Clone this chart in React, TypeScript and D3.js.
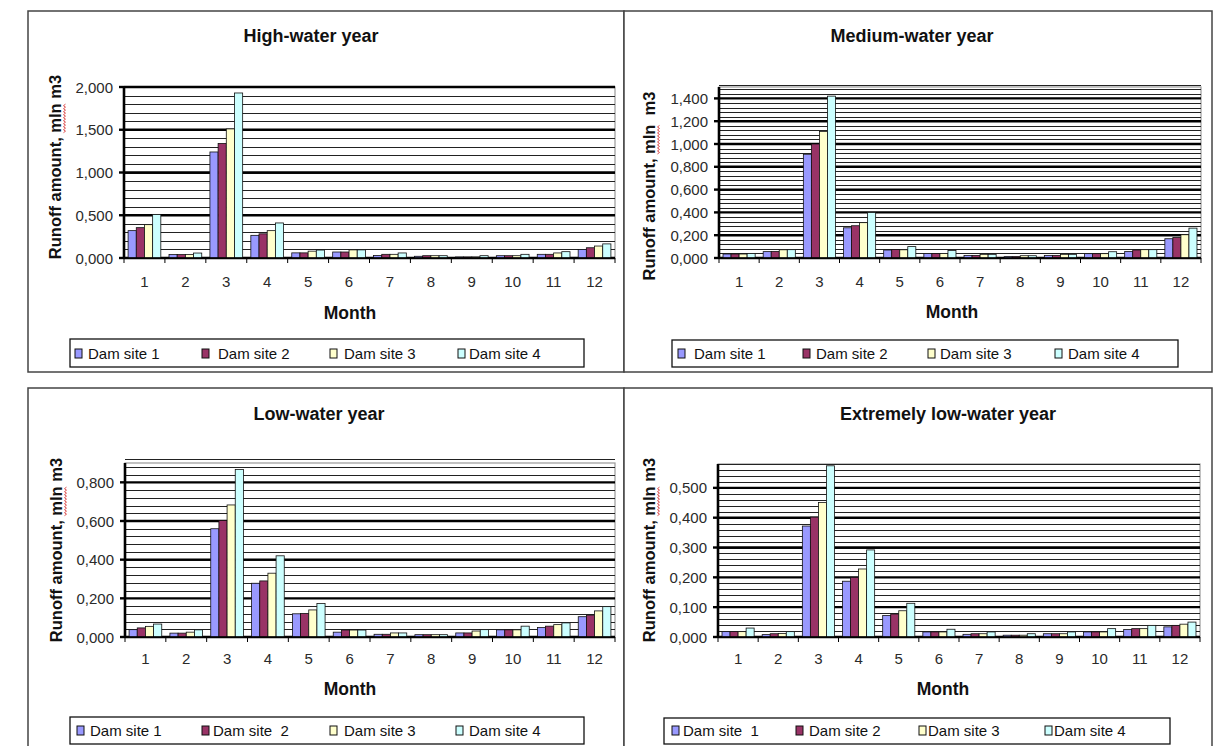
import React from 'react';
import * as d3 from 'd3';

const months = ['1', '2', '3', '4', '5', '6', '7', '8', '9', '10', '11', '12'];

const highWater = [
  [0.32, 0.04, 1.24, 0.265, 0.06, 0.07, 0.03, 0.02, 0.012, 0.027, 0.043, 0.1],
  [0.355, 0.04, 1.34, 0.283, 0.06, 0.07, 0.043, 0.027, 0.012, 0.027, 0.043, 0.12],
  [0.39, 0.04, 1.51, 0.32, 0.08, 0.095, 0.043, 0.027, 0.012, 0.027, 0.059, 0.14],
  [0.51, 0.058, 1.93, 0.41, 0.093, 0.095, 0.059, 0.027, 0.027, 0.043, 0.074, 0.165],
];
const mediumWater = [
  [0.035, 0.056, 0.91, 0.265, 0.07, 0.04, 0.023, 0.012, 0.023, 0.038, 0.058, 0.169],
  [0.035, 0.058, 1.0, 0.283, 0.075, 0.04, 0.023, 0.012, 0.023, 0.038, 0.07, 0.18],
  [0.035, 0.072, 1.11, 0.31, 0.072, 0.04, 0.032, 0.02, 0.032, 0.038, 0.073, 0.204],
  [0.04, 0.073, 1.42, 0.4, 0.1, 0.065, 0.032, 0.02, 0.032, 0.055, 0.073, 0.262],
];
const lowWater = [
  [0.038, 0.02, 0.56, 0.278, 0.12, 0.025, 0.014, 0.012, 0.021, 0.037, 0.049, 0.105],
  [0.047, 0.02, 0.603, 0.29, 0.122, 0.036, 0.014, 0.012, 0.021, 0.037, 0.056, 0.113],
  [0.055, 0.025, 0.683, 0.33, 0.14, 0.036, 0.021, 0.012, 0.031, 0.037, 0.064, 0.135],
  [0.067, 0.037, 0.866, 0.42, 0.173, 0.036, 0.021, 0.012, 0.038, 0.056, 0.073, 0.157],
];
const extremeLowWater = [
  [0.018, 0.008, 0.372, 0.187, 0.072, 0.017, 0.009, 0.006, 0.011, 0.017, 0.025, 0.034],
  [0.018, 0.011, 0.402, 0.2, 0.077, 0.017, 0.011, 0.006, 0.011, 0.017, 0.028, 0.039],
  [0.018, 0.012, 0.451, 0.228, 0.088, 0.017, 0.011, 0.006, 0.011, 0.017, 0.028, 0.043],
  [0.03, 0.018, 0.574, 0.292, 0.113, 0.026, 0.017, 0.011, 0.017, 0.028, 0.039, 0.05],
];

const highTicks = [0, 0.5, 1.0, 1.5, 2.0];
const mediumTicks = [0, 0.2, 0.4, 0.6, 0.8, 1.0, 1.2, 1.4];
const lowTicks = [0, 0.2, 0.4, 0.6, 0.8];
const extremeTicks = [0, 0.1, 0.2, 0.3, 0.4, 0.5];

const legendA = ['Dam site 1', 'Dam site 2', 'Dam site 3', 'Dam site 4'];
const legendC = ['Dam site 1', 'Dam site  2', 'Dam site 3', 'Dam site 4'];
const legendD = ['Dam site  1', 'Dam site 2', 'Dam site 3', 'Dam site 4'];

const COLORS = ['#9999FF', '#993366', '#FFFFCC', '#CCFFFF'];
const FONT = '"Liberation Sans", Arial, sans-serif';
const Y_TITLE_SIZE = 16.5;

const panels = [
  {
    title: 'High-water year', data: highWater, ticks: highTicks, yMax: 2.0, minor: 0.1,
    legend: legendA, yTitleEnd: ' m3',
    frame: [28, 11, 596, 361], plot: { x0: 124, x1: 615, top: 87, bottom: 258 },
    titleX: 311, titleY: 42, yTitleX: 61, yTitleY: 167, xLabelY: 287, monthX: 350, monthY: 319,
    legendBox: [70, 339, 514, 28], markers: [75, 202, 330, 458], texts: [88, 218, 344, 469], legendY: 359,
  },
  {
    title: 'Medium-water year', data: mediumWater, ticks: mediumTicks, yMax: 1.5, minor: 0.04,
    legend: legendA, yTitleEnd: '  m3',
    frame: [624, 11, 588, 361], plot: { x0: 719, x1: 1201, top: 87, bottom: 258 },
    titleX: 912, titleY: 42, yTitleX: 655, yTitleY: 186, xLabelY: 287, monthX: 952, monthY: 318,
    legendBox: [672, 340, 506, 27], markers: [678, 803, 928, 1055], texts: [694, 816, 940, 1068], legendY: 359,
  },
  {
    title: 'Low-water year', data: lowWater, ticks: lowTicks, yMax: 0.9, minor: 0.04,
    legend: legendC, yTitleEnd: ' m3',
    frame: [28, 388, 596, 360], plot: { x0: 125, x1: 615, top: 463, bottom: 637 },
    titleX: 319, titleY: 420, yTitleX: 62, yTitleY: 550, xLabelY: 664, monthX: 350, monthY: 695,
    legendBox: [70, 717, 514, 27], markers: [77, 202, 330, 456], texts: [90, 213, 344, 469], legendY: 736,
  },
  {
    title: 'Extremely low-water year', data: extremeLowWater, ticks: extremeTicks, yMax: 0.58, minor: 0.02,
    legend: legendD, yTitleEnd: ' m3',
    frame: [624, 388, 588, 360], plot: { x0: 718, x1: 1200, top: 464, bottom: 637 },
    titleX: 948, titleY: 420, yTitleX: 655, yTitleY: 550, xLabelY: 664, monthX: 943, monthY: 695,
    legendBox: [664, 718, 506, 26], markers: [672, 796, 919, 1045], texts: [683, 809, 928, 1054], legendY: 736,
  },
];

const fmt = (v: number) => d3.format('.3f')(v).replace('.', ',');

let measureCtx: CanvasRenderingContext2D | null = null;
function textWidth(s: string, font: string): number {
  if (!measureCtx) {
    const c = document.createElement('canvas');
    measureCtx = c.getContext('2d');
  }
  if (!measureCtx) return s.length * 9;
  measureCtx.font = font;
  return measureCtx.measureText(s).width;
}

function wavyPath(xStart: number, xEnd: number, yBase: number): string {
  const pts: [number, number][] = [];
  const period = 3;
  let i = 0;
  for (let xx = xStart; xx <= xEnd + 0.01; xx += period / 2) {
    pts.push([xx, yBase + (i % 2 === 0 ? -1 : 1)]);
    i++;
  }
  return d3.line()(pts) || '';
}

function Panel({ p }: { p: any }) {
  const { x0, x1, top, bottom } = p.plot;
  const x = d3.scaleBand<string>().domain(months).range([x0, x1]).paddingInner(0).paddingOuter(0);
  const xs = d3.scaleBand<number>().domain([0, 1, 2, 3]).range([0, x.bandwidth()]).paddingInner(0).paddingOuter(0.5);
  const y = d3.scaleLinear().domain([0, p.yMax]).range([bottom, top]);
  const nMinor = Math.round(p.yMax / p.minor);
  const minorVals = d3.range(0, nMinor + 1).map((i) => i * p.minor);
  const boundaries = d3.range(0, months.length + 1).map((i) => x0 + i * x.step());
  const [fx, fy, fw, fh] = p.frame;
  const [lx, ly, lw, lh] = p.legendBox;
  const snap = (v: number) => Math.round(v) + 0.5;

  const yFont = `bold ${Y_TITLE_SIZE}px "Liberation Sans", Arial, sans-serif`;
  const pre = 'Runoff amount, ';
  const full = pre + 'mln' + p.yTitleEnd;
  const fullW = textWidth(full, yFont);
  const preW = textWidth(pre, yFont);
  const mlnW = textWidth('mln', yFont);
  const mlnStart = -fullW / 2 + preW;

  return (
    <g>
      <rect x={fx} y={fy} width={fw} height={fh} fill="#fff" stroke="#444" strokeWidth={1.5} />
      <text x={p.titleX} y={p.titleY} textAnchor="middle" fontFamily={FONT} fontWeight="bold" fontSize={18} fill="#111">
        {p.title}
      </text>
      {/* plot area */}
      <rect x={x0} y={top} width={x1 - x0} height={bottom - top} fill="#fff" stroke="#999" strokeWidth={1.2} />
      {minorVals.map((v, i) => (
        <line key={'m' + i} x1={x0} x2={x1} y1={snap(y(v))} y2={snap(y(v))} stroke="#222" strokeWidth={1} shapeRendering="crispEdges" />
      ))}
      {p.ticks.map((v: number, i: number) => (
        <line key={'M' + i} x1={x0} x2={x1} y1={y(v)} y2={y(v)} stroke="#000" strokeWidth={2.4} />
      ))}
      {/* bars */}
      {p.data.map((series: number[], s: number) =>
        series.map((v, m) => (
          <rect
            key={s + '-' + m}
            x={(x(months[m]) as number) + (xs(s) as number)}
            y={y(v)}
            width={xs.bandwidth()}
            height={bottom - y(v)}
            fill={COLORS[s]}
            stroke="#111"
            strokeWidth={0.8}
          />
        ))
      )}
      {/* y axis */}
      <line x1={x0} x2={x0} y1={top} y2={bottom + 1} stroke="#000" strokeWidth={2.6} />
      {p.ticks.map((v: number, i: number) => (
        <g key={'t' + i}>
          <line x1={x0 - 5} x2={x0} y1={y(v)} y2={y(v)} stroke="#000" strokeWidth={2.4} />
          <text x={x0 - 11} y={y(v) + 5.5} textAnchor="end" fontFamily={FONT} fontSize={15} fill="#2a2a2a">
            {fmt(v)}
          </text>
        </g>
      ))}
      {/* x axis */}
      <line x1={x0} x2={x1} y1={bottom} y2={bottom} stroke="#000" strokeWidth={1.5} />
      {boundaries.map((bx, i) => (
        <line key={'xb' + i} x1={bx} x2={bx} y1={bottom} y2={bottom + 5} stroke="#000" strokeWidth={1} />
      ))}
      {months.map((m) => (
        <text key={'xl' + m} x={(x(m) as number) + x.bandwidth() / 2} y={p.xLabelY} textAnchor="middle" fontFamily={FONT} fontSize={15} fill="#2a2a2a">
          {m}
        </text>
      ))}
      <text x={p.monthX} y={p.monthY} textAnchor="middle" fontFamily={FONT} fontWeight="bold" fontSize={17.5} fill="#111">
        Month
      </text>
      <g transform={`translate(${p.yTitleX},${p.yTitleY}) rotate(-90)`}>
        <text
          x={0}
          y={0}
          textAnchor="middle"
          fontFamily={FONT}
          fontWeight="bold"
          fontSize={Y_TITLE_SIZE}
          fill="#111"
          style={{ whiteSpace: 'pre' }}
        >
          {full}
        </text>
        <path d={wavyPath(mlnStart, mlnStart + mlnW, 3.5)} fill="none" stroke="#d83a3a" strokeWidth={0.9} />
      </g>
      {/* legend */}
      <rect x={lx} y={ly} width={lw} height={lh} fill="#fff" stroke="#111" strokeWidth={1.3} />
      {p.legend.map((name: string, i: number) => (
        <g key={'lg' + i}>
          <rect x={p.markers[i]} y={p.legendY - 10} width={7} height={9} fill={COLORS[i]} stroke="#111" strokeWidth={1} />
          <text x={p.texts[i]} y={p.legendY} fontFamily={FONT} fontSize={15} fill="#111" style={{ whiteSpace: 'pre' }}>
            {name}
          </text>
        </g>
      ))}
    </g>
  );
}

export default function App() {
  return (
    <svg
      width={1217}
      height={746}
      viewBox="0 0 1217 746"
      style={{ position: 'absolute', left: 0, top: 0, background: '#fff' }}
    >
      <rect x={0} y={0} width={1217} height={746} fill="#fff" />
      {panels.map((p, i) => (
        <Panel key={i} p={p} />
      ))}
    </svg>
  );
}
